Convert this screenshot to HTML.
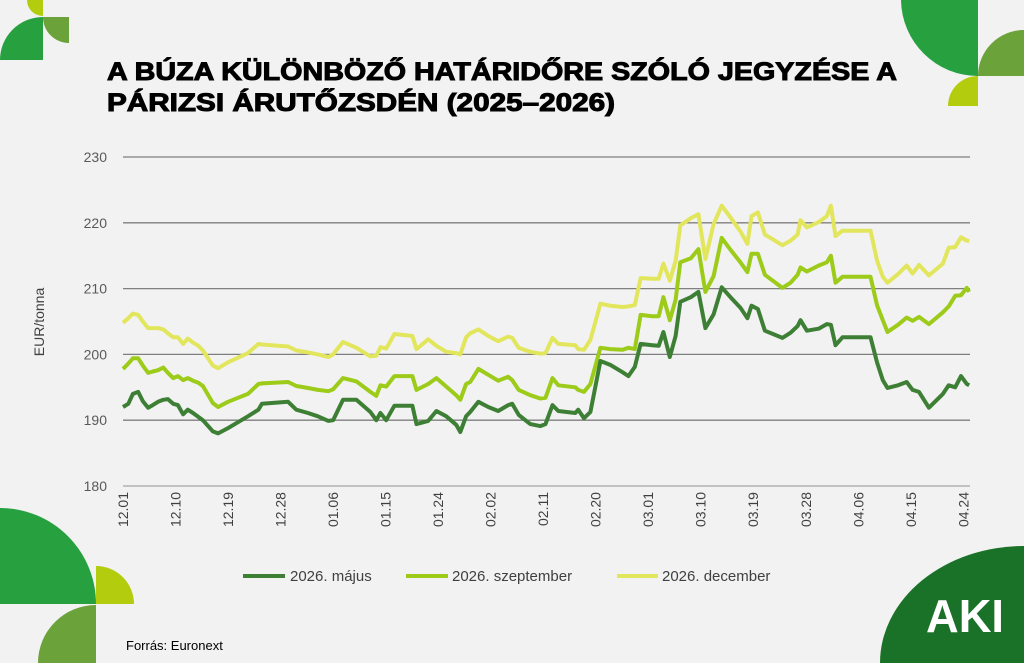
<!DOCTYPE html>
<html><head><meta charset="utf-8"><style>
html,body{margin:0;padding:0;background:#f2f2f2;}
svg{display:block;font-family:"Liberation Sans",sans-serif;}
</style></head><body>
<svg id="c" width="1024" height="663" viewBox="0 0 1024 663" xmlns="http://www.w3.org/2000/svg">
<rect width="1024" height="663" fill="#f2f2f2"/>
<g>
<path d="M43,0 L27,0 A16,16 0 0 0 43,16 Z" fill="#b3cc0e"/>
<path d="M43,60 L0,60 A43,43 0 0 1 43,17 Z" fill="#27a040"/>
<path d="M43,17 L69,17 L69,43 A26,26 0 0 1 43,17 Z" fill="#6ba23a"/>
</g>
<g>
<path d="M901,0 L978,0 L978,76 A77,77 0 0 1 901,0 Z" fill="#27a040"/>
<path d="M978,76 A46,46 0 0 1 1024,30 L1024,76 Z" fill="#6ba23a"/>
<path d="M948,106 A30,30 0 0 1 978,76 L978,106 Z" fill="#b3cc0e"/>
</g>
<g>
<path d="M0,604 L0,508 A96,96 0 0 1 96,604 Z" fill="#27a040"/>
<path d="M96,604 L96,566 A38,38 0 0 1 134,604 Z" fill="#b3cc0e"/>
<path d="M38,663 A58,58 0 0 1 96,605 L96,663 Z" fill="#6ba23a"/>
</g>
<g>
<path d="M880,663 A144,117 0 0 1 1024,546 L1024,663 Z" fill="#1a7228"/>
<text x="965" y="632" text-anchor="middle" font-size="46" font-weight="bold" fill="#fff" textLength="78" lengthAdjust="spacingAndGlyphs">AKI</text>
</g>
<g font-weight="bold" font-size="25" fill="#000" stroke="#000" stroke-width="1">
<text x="107" y="80" textLength="790" lengthAdjust="spacingAndGlyphs">A BÚZA KÜLÖNBÖZŐ HATÁRIDŐRE SZÓLÓ JEGYZÉSE A</text>
<text x="107" y="111" textLength="508" lengthAdjust="spacingAndGlyphs">PÁRIZSI ÁRUTŐZSDÉN (2025–2026)</text>
</g>
<text x="44" y="322" transform="rotate(-90 44 322)" text-anchor="middle" font-size="14" fill="#404040">EUR/tonna</text>
<g id="grid"></g><g id="yt"></g><g id="xt"></g><g id="series"></g>
<g font-size="15" fill="#404040">
<line x1="243" y1="576" x2="285" y2="576" stroke="#3d7f35" stroke-width="4"/>
<text x="290" y="581">2026. május</text>
<line x1="406" y1="576" x2="448" y2="576" stroke="#9ccb19" stroke-width="4"/>
<text x="452" y="581">2026. szeptember</text>
<line x1="617" y1="576" x2="658" y2="576" stroke="#e2e65c" stroke-width="4"/>
<text x="662" y="581">2026. december</text>
</g>
<text x="126" y="650" font-size="13" fill="#000">Forrás: Euronext</text>
</svg>
<script>
const days=[0,0.9,1.7,2.6,3.4,4.3,5.1,6,6.9,7.7,8.6,9.4,10.3,11.1,12,12.9,13.7,15.4,16.3,18,19.7,21.4,23.2,23.8,28.3,29.7,31.7,33.4,35.2,36,37.7,40,42.4,43.4,44.1,45.1,46.5,49.6,50.3,52.3,53.7,55.4,57.1,57.8,58.8,59.5,60.9,62.6,64.3,66,66.7,67.8,69.8,71.5,72.4,73.6,74.6,77.5,78,79,80.1,81.8,83.5,85.6,86.6,87.7,88.7,90.7,91.8,92.6,93.7,94.7,95.5,97.3,98.6,99.8,101.2,102.6,104.1,105.8,107,107.7,108.8,110,113,114.4,115.6,116.1,117.2,119.2,120.6,121.3,122.1,123.3,128.1,129.2,130.2,131,132.8,134.3,135.3,136.4,138.1,140.5,141.5,142.6,143.6,144.6,145];
const may=[192.0,192.5,194.0,194.3,192.9,191.9,192.3,192.8,193.1,193.2,192.5,192.3,190.9,191.6,191.1,190.5,190.0,188.3,188.0,188.8,189.7,190.6,191.6,192.5,192.8,191.6,191.1,190.6,189.9,190.0,193.1,193.1,191.25,190.0,191.1,190.0,192.2,192.2,189.4,189.9,191.4,190.6,189.3,188.2,190.6,191.25,192.8,192.0,191.4,192.3,192.5,190.8,189.4,189.1,189.4,192.3,191.4,191.1,191.6,190.3,191.25,199.0,198.4,197.3,196.7,198.1,201.6,201.4,201.3,203.4,199.6,202.8,208.0,208.7,209.5,204.0,206.1,210.2,208.7,207.1,205.5,207.4,206.9,203.6,202.5,203.3,204.3,205.2,203.6,203.9,204.6,204.5,201.4,202.6,202.6,198.8,196.1,194.9,195.3,195.8,194.6,194.3,191.9,194.0,195.3,195.0,196.7,195.5,195.3];
const sep=[197.8,198.6,199.4,199.4,198.3,197.2,197.4,197.6,198.0,197.2,196.4,196.7,196.1,196.4,196.0,195.7,195.2,192.6,192.0,192.8,193.4,194.0,195.5,195.6,195.8,195.2,194.9,194.6,194.4,194.7,196.4,195.9,194.3,193.7,195.3,195.1,196.7,196.7,194.6,195.5,196.4,195.1,193.8,193.1,195.5,195.8,197.8,196.9,196.0,196.6,196.1,194.6,193.8,193.3,193.4,196.4,195.3,195.0,194.6,194.3,195.5,201.0,200.8,200.7,201.0,200.8,206.0,205.8,205.8,208.7,205.2,208.3,214.0,214.6,216.0,209.5,211.9,217.7,215.9,214.0,212.5,215.3,215.3,212.1,210.1,210.9,212.1,213.2,212.6,213.5,214.0,215.0,210.9,211.8,211.8,207.5,205.2,203.4,204.5,205.6,205.1,205.7,204.6,206.4,207.3,208.9,209.0,210.1,209.5];
const dec=[204.8,205.5,206.2,206.0,205.0,204.0,204.0,204.0,203.8,203.2,202.6,202.6,201.6,202.4,201.8,201.3,200.6,198.3,197.9,198.8,199.5,200.2,201.6,201.5,201.2,200.6,200.3,200.0,199.6,200.0,201.9,201.0,199.7,199.8,201.1,200.9,203.1,202.8,200.8,202.3,201.3,200.4,200.2,200.0,202.6,203.2,203.8,202.8,202.0,202.7,202.5,201.0,200.4,200.1,200.2,202.5,201.6,201.4,200.8,200.7,202.2,207.7,207.4,207.2,207.3,207.5,211.6,211.5,211.5,213.8,211.2,214.2,219.6,220.7,221.3,214.5,219.8,222.6,220.8,218.7,216.8,221.0,221.6,218.2,216.6,217.3,218.2,220.4,219.3,220.1,221.0,222.6,218.0,218.8,218.8,214.3,211.8,210.9,212.2,213.5,212.3,213.6,212.0,213.8,216.2,216.3,217.8,217.3,217.2];
const yTicks=[180,190,200,210,220,230];
const xTickLabels=["12.01","12.10","12.19","12.28","01.06","01.15","01.24","02.02","02.11","02.20","03.01","03.10","03.19","03.28","04.06","04.15","04.24"];
const xTickDays=[0,9,18,27,36,45,54,63,72,81,90,99,108,117,126,135,144];
const NS="http://www.w3.org/2000/svg";
const X=d=>123+d*(845/144.8), Y=v=>486-(v-180)*(329/50);
const grid=document.getElementById('grid'),yt=document.getElementById('yt'),xt=document.getElementById('xt'),sg=document.getElementById('series');
yTicks.forEach(t=>{
 const l=document.createElementNS(NS,'line');
 l.setAttribute('x1',123);l.setAttribute('x2',970);l.setAttribute('y1',Y(t));l.setAttribute('y2',Y(t));
 l.setAttribute('stroke',t===180?'#a6a6a6':'#7f7f7f');l.setAttribute('stroke-width',1.3);
 
 
 grid.appendChild(l);
 const tx=document.createElementNS(NS,'text');
 tx.setAttribute('x',107);tx.setAttribute('y',Y(t)+5);tx.setAttribute('text-anchor','end');tx.setAttribute('font-size','14');tx.setAttribute('fill','#595959');
 tx.textContent=t;
 
 
 yt.appendChild(tx);
});
xTickLabels.forEach((s,i)=>{
 const x=X(xTickDays[i]);
 const tx=document.createElementNS(NS,'text');
 tx.setAttribute('x',x+5);tx.setAttribute('y',492);tx.setAttribute('text-anchor','end');tx.setAttribute('font-size','14');tx.setAttribute('fill','#404040');
 tx.setAttribute('transform','rotate(-90 '+(x+5)+' 492)');
 tx.textContent=s;
 
 
 xt.appendChild(tx);
});
[[dec,'#e2e65c','line-december'],[sep,'#9ccb19','line-september'],[may,'#3d7f35','line-may']].forEach(([arr,c,n])=>{
 const p=document.createElementNS(NS,'polyline');
 p.setAttribute('points',arr.map((v,i)=>X(days[i]).toFixed(1)+','+Y(v).toFixed(1)).join(' '));
 p.setAttribute('fill','none');p.setAttribute('stroke',c);p.setAttribute('stroke-width',4);p.setAttribute('stroke-linejoin','round');
 
 
 sg.appendChild(p);
});
</script>
</body></html>
